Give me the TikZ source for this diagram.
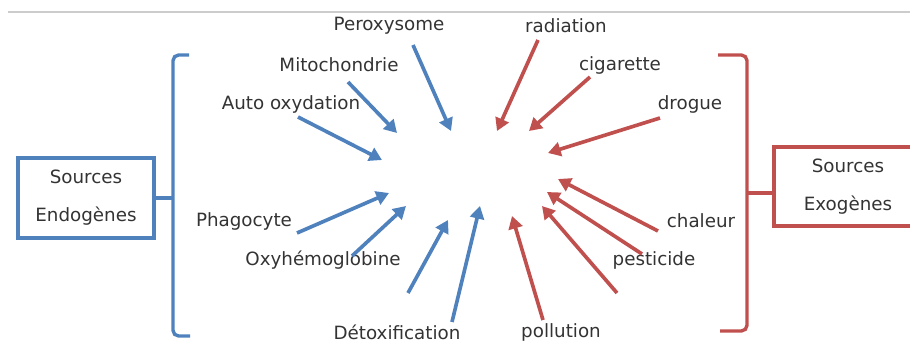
\documentclass[tikz,border=0pt]{standalone}
\usepackage{fontspec}
\setmainfont{DejaVu Sans}
\usetikzlibrary{arrows.meta}
\definecolor{endoblue}{RGB}{79,129,189}
\definecolor{exored}{RGB}{192,80,77}
\tikzset{
  endo/.style={
    color = endoblue,
    line width = 2.6pt,
    -{Triangle[length=9pt,width=10pt]}
  },
  exo/.style={
    color = exored,
    line width = 2.6pt,
    -{Triangle[length=9pt,width=10pt]}
  },
  source/.style={
    inner sep = 0pt,
    text = black!80,
    font = \fontsize{13}{15}\selectfont
  },
  srcbox/.style={
    draw,
    line width = 2.4pt,
    align = center,
    text = black!80,
    font = \fontsize{13}{27}\selectfont
  },
  bracket/.style={
    line width = 2.4pt,
    rounded corners = 4pt
  }
}

\begin{document}
\begin{tikzpicture}[x=0.025cm,y=-0.025cm]
        \useasboundingbox (0,0) rectangle (910,342);
        \draw[gray!40, line width=0.8pt] (8,12) -- (910,12);
        % boxes
        \node[srcbox, draw=endoblue, minimum width=3.4cm, minimum height=2cm] (endobox) at (86,198) {Sources\\Endogènes};
        \node[srcbox, draw=exored, minimum width=3.7cm, minimum height=1.975cm] (exobox) at (848,186.5) {Sources\\Exogènes};
        % brackets
        \draw[bracket, endoblue] (189,55) -- (173,55) -- (173,336) -- (190,336);
        \draw[bracket, endoblue] (173,198) -- (endobox.east |- 0,198);
        \draw[bracket, exored] (718,55) -- (747,55) -- (747,331) -- (720,331);
        \draw[bracket, exored] (747,193) -- (exobox.west |- 0,193);
        % endogenous labels
        \node[source] (perox) at (389,26) {Peroxysome};
        \node[source] (mito) at (339,65) {Mitochondrie};
        \node[source] (autox) at (291,104) {Auto oxydation};
        \node[source] (phago) at (244,221) {Phagocyte};
        \node[source] (oxyhb) at (323,260) {Oxyhémoglobine};
        \node[source] (detox) at (397,332) {Détoxification};
        % exogenous labels
        \node[source] (radia) at (566,26) {radiation};
        \node[source] (cigar) at (620,65) {cigarette};
        \node[source] (drog) at (690,104) {drogue};
        \node[source] (chal) at (701,221) {chaleur};
        \node[source] (pest) at (654,260) {pesticide};
        \node[source] (pollu) at (561,332) {pollution};
        % arrow ends
        \coordinate (perox-t) at (413,45);   \coordinate (perox-h) at (451,131);
        \coordinate (mito-t) at (348,82);    \coordinate (mito-h) at (397,133);
        \coordinate (autox-t) at (298,117);  \coordinate (autox-h) at (382,160);
        \coordinate (phago-t) at (297,233);  \coordinate (phago-h) at (389,193);
        \coordinate (oxyhb-t) at (352,256);  \coordinate (oxyhb-h) at (406,206);
        \coordinate (detoxa-t) at (408,293); \coordinate (detoxa-h) at (448,220);
        \coordinate (detoxb-t) at (452,322); \coordinate (detoxb-h) at (480,206);
        \coordinate (radia-t) at (538,40);   \coordinate (radia-h) at (497,131);
        \coordinate (cigar-t) at (590,77);   \coordinate (cigar-h) at (529,131);
        \coordinate (drog-t) at (660,118);   \coordinate (drog-h) at (548,153);
        \coordinate (chal-t) at (658,231);   \coordinate (chal-h) at (558,179);
        \coordinate (pesta-t) at (642,254);  \coordinate (pesta-h) at (547,192);
        \coordinate (pestb-t) at (617,293);  \coordinate (pestb-h) at (542,206);
        \coordinate (pollu-t) at (543,320);  \coordinate (pollu-h) at (512,216);
        % arrows
        \draw[endo] (perox-t) -- (perox-h);
        \draw[endo] (mito-t) -- (mito-h);
        \draw[endo] (autox-t) -- (autox-h);
        \draw[endo] (phago-t) -- (phago-h);
        \draw[endo] (oxyhb-t) -- (oxyhb-h);
        \draw[endo] (detoxa-t) -- (detoxa-h);
        \draw[endo] (detoxb-t) -- (detoxb-h);
        \draw[exo] (radia-t) -- (radia-h);
        \draw[exo] (cigar-t) -- (cigar-h);
        \draw[exo] (drog-t) -- (drog-h);
        \draw[exo] (chal-t) -- (chal-h);
        \draw[exo] (pesta-t) -- (pesta-h);
        \draw[exo] (pestb-t) -- (pestb-h);
        \draw[exo] (pollu-t) -- (pollu-h);
\end{tikzpicture}
\end{document}
